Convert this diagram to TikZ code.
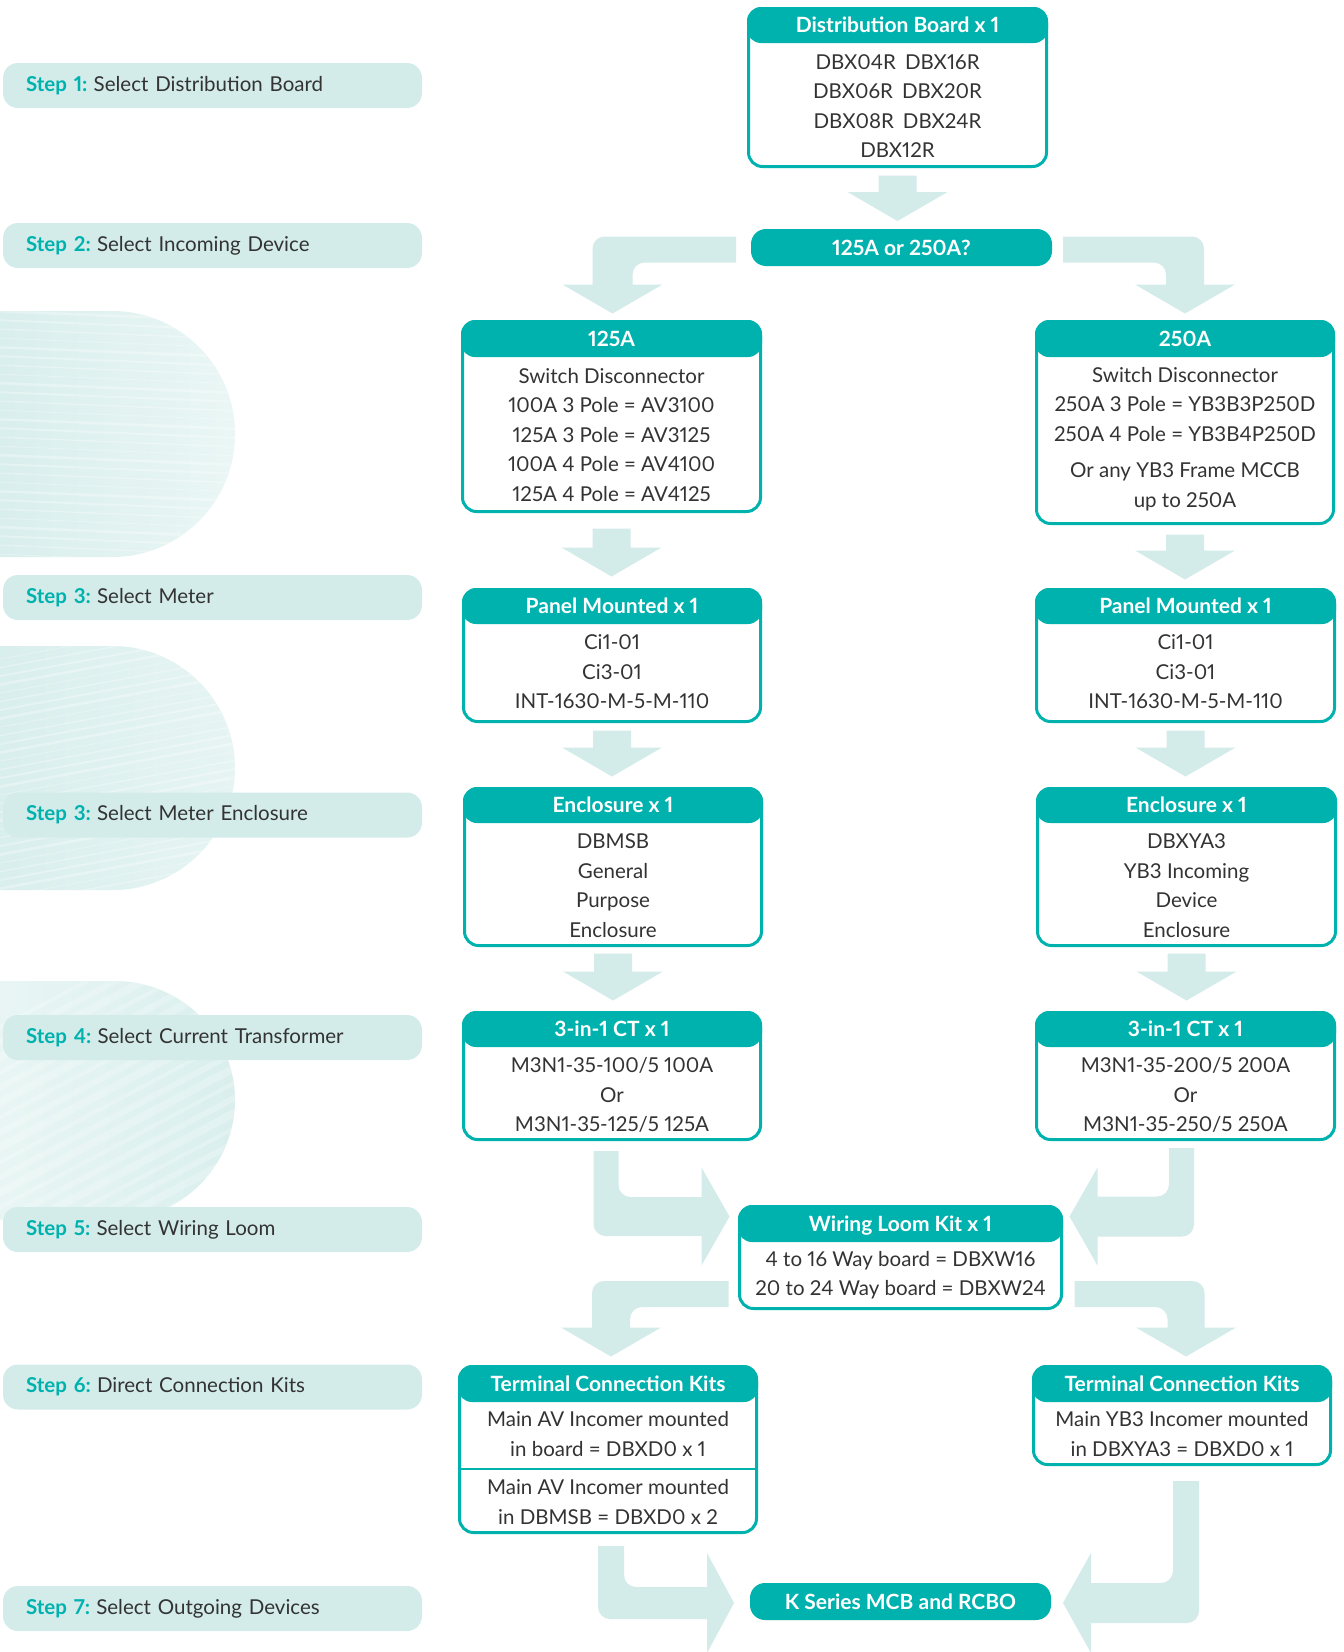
\documentclass[tikz,border=0pt]{standalone}
\usepackage{fontspec}
\setmainfont{Lato}[Numbers=Proportional]
\usetikzlibrary{calc}
\definecolor{tealc}{HTML}{00B2AE}
\definecolor{litec}{HTML}{D3ECEA}
\definecolor{darkc}{HTML}{333333}
\definecolor{blobc}{HTML}{D9EFED}
\newcommand\stp[1]{\textcolor{tealc}{\bfseries Step #1:}\hspace{-4pt}}
\newcommand\tbox[7]{%
 \node[boxs, minimum width={(#4-#2-3)*1pt}, minimum height={(#5-#3-3)*1pt}] (#1) at ({(#2+#4)/2},{(#3+#5)/2}) {};
 \node[hdr, minimum width={(#4-#2)*1pt}, minimum height={(#6-#3)*1pt}] (#1-h) at ({(#2+#4)/2},{(#3+#6)/2}) {#7};}
\newcommand\dnarrow[4]{%
 \fill[litec] let \p1=(#1.south), \p2=(#2.north) in
 ({\x1-19pt},{\y1-#3pt}) -- ({\x1+19pt},{\y1-#3pt}) -- ({\x1+19pt},{\y2+#4pt+29pt}) -- ({\x1+50pt},{\y2+#4pt+29pt})
 -- ({\x1},{\y2+#4pt}) -- ({\x1-50pt},{\y2+#4pt+29pt}) -- ({\x1-19pt},{\y2+#4pt+29pt}) -- cycle;}
\newcommand\bandDown[5]{%
 \begin{scope}
 \clip let \p1=(#1), \p2=(#2) in
   ({\x1}, {\y1+#3pt/2}) rectangle ({\x2+(#5)*(#4pt/2+6pt)}, {\y2+26pt});
 \fill[litec, rounded corners=12pt] let \p1=(#1), \p2=(#2) in
   ({\x1-(#5)*20pt}, {\y1+#3pt/2}) -- ({\x2+(#5)*#4pt/2}, {\y1+#3pt/2}) -- ({\x2+(#5)*#4pt/2}, {\y2+10pt})
   -- ({\x2-(#5)*#4pt/2}, {\y2+10pt}) -- ({\x2-(#5)*#4pt/2}, {\y1-#3pt/2}) -- ({\x1-(#5)*20pt}, {\y1-#3pt/2}) -- cycle;
 \end{scope}
 \fill[litec] let \p1=(#2) in ({\x1-50pt},{\y1+29pt}) -- ({\x1+50pt},{\y1+29pt}) -- ({\x1},{\y1}) -- cycle;}
\newcommand\stemBand[7]{%
 \begin{scope}
 \clip let \p1=(#1), \p2=(#2) in
   ({\x1-(#5)*(#3pt/2+6pt)}, {\y1}) rectangle ({\x2-(#5)*(#7pt-3pt)}, {\y2-#4pt/2});
 \fill[litec, rounded corners=12pt] let \p1=(#1), \p2=(#2) in
   ({\x1-(#5)*#3pt/2}, {\y1+20pt}) -- ({\x1-(#5)*#3pt/2}, {\y2-#4pt/2}) -- ({\x2-(#5)*(#7pt-20pt)}, {\y2-#4pt/2})
   -- ({\x2-(#5)*(#7pt-20pt)}, {\y2+#4pt/2}) -- ({\x1+(#5)*#3pt/2}, {\y2+#4pt/2}) -- ({\x1+(#5)*#3pt/2}, {\y1+20pt}) -- cycle;
 \end{scope}
 \fill[litec] let \p1=(#2) in ({\x1-(#5)*#7pt}, {\y1+#6pt}) -- ({\x1-(#5)*#7pt}, {\y1-#6pt}) -- ({\x1},{\y1}) -- cycle;}
\begin{document}
\begin{tikzpicture}[x=1pt,y=-1pt,
  every node/.style={inner sep=0pt,outer sep=0pt},
  boxs/.style={draw=tealc, line width=3pt, rounded corners=14pt, fill=white},
  hdr/.style={fill=tealc, rounded corners=14pt, text=white, font=\bfseries\fontsize{21}{24}\selectfont, text height=15pt, text depth=0pt},
  body/.style={text=darkc, align=center, font=\fontsize{20.5}{29.5}\selectfont},
  stepbar/.style={fill=litec, rounded corners=15pt, minimum width=419pt, minimum height=45pt, text width=373pt, inner xsep=23pt, align=left, text=darkc, font=\fontsize{20.5}{24}\selectfont}]
\useasboundingbox (0,0) rectangle (1344,1652);
\fill[white] (0,0) rectangle (1344,1652);

% decorative blobs
\begin{scope}
\clip (0,311) -- (112,311) .. controls (180,311) and (235,366) .. (235,434) .. controls (235,502) and (180,557) .. (112,557) -- (0,557) -- cycle;
\shade[left color=blobc, right color=blobc!55!white] (0,300) rectangle (240,570);
\foreach \i in {0,...,30} \draw[white, opacity=0.3, line width={0.8+mod(\i*7,4)*0.6}] (-5,{302+\i*9}) -- (240,{312+\i*9});
\end{scope}
\begin{scope}
\clip (0,646) -- (113,646) .. controls (180,646) and (235,701) .. (235,768) .. controls (235,835) and (180,890) .. (113,890) -- (0,890) -- cycle;
\shade[left color=blobc, right color=blobc!65!white] (0,640) rectangle (240,900);
\foreach \i in {0,...,36} \draw[white, opacity=0.3, line width={0.8+mod(\i*5,4)*0.6}] (-5,{660+\i*8.5}) -- (240,{615+\i*8.5});
\end{scope}
\begin{scope}
\clip (0,981) -- (115,981) .. controls (181,981) and (235,1034) .. (235,1100) .. controls (235,1166) and (181,1220) .. (115,1220) -- (0,1220) -- cycle;
\shade[left color=blobc!60!white, right color=blobc] (0,975) rectangle (240,1225);
\foreach \i in {0,...,20} \draw[white, opacity=0.22, line width={4+2*mod(\i,3)}] (-5,{1030+\i*15}) -- (240,{900+\i*15});
\end{scope}

% step bars
\node[stepbar] (s1) at (212.5,85.5) {\stp{1} Select Distribution Board};
\node[stepbar] (s2) at (212.5,245.5) {\stp{2} Select Incoming Device};
\node[stepbar] (s3) at (212.5,597.5) {\stp{3} Select Meter};
\node[stepbar] (s3b) at (212.5,815) {\stp{3} Select Meter Enclosure};
\node[stepbar] (s4) at (212.5,1037.5) {\stp{4} Select Current Transformer};
\node[stepbar] (s5) at (212.5,1229.5) {\stp{5} Select Wiring Loom};
\node[stepbar] (s6) at (212.5,1387) {\stp{6} Direct Connection Kits};
\node[stepbar] (s7) at (212.5,1608.5) {\stp{7} Select Outgoing Devices};

% boxes
\tbox{db}{747}{7}{1048}{168}{43}{Distribution Board x 1}
\node[body] (db-t) at (897.5,106) {DBX04R\hspace{9pt}DBX16R\\DBX06R\hspace{9pt}DBX20R\\DBX08R\hspace{9pt}DBX24R\\DBX12R};
\node[hdr, minimum width=301pt, minimum height=37pt, rounded corners=15pt] (q) at (901.5,247.5) {125A or 250A?};

\tbox{a125}{461}{320}{762}{513}{357}{125A}
\node[body] (a125-t) at (611.5,435) {Switch Disconnector\\100A 3 Pole = AV3100\\125A 3 Pole = AV3125\\100A 4 Pole = AV4100\\125A 4 Pole = AV4125};
\tbox{b250}{1035}{320}{1335}{525}{357}{250A}
\node[body] (b250-t) at (1185,439) {Switch Disconnector\\250A 3 Pole = YB3B3P250D\\250A 4 Pole = YB3B4P250D\\[7pt]Or any YB3 Frame MCCB\\up to 250A};

\tbox{pml}{462}{588}{762}{723}{624}{Panel Mounted x 1}
\node[body] (pml-t) at (612,672) {Ci1-01\\Ci3-01\\INT-1630-M-5-M-110};
\tbox{pmr}{1035}{588}{1336}{723}{624}{Panel Mounted x 1}
\node[body] (pmr-t) at (1185.5,672) {Ci1-01\\Ci3-01\\INT-1630-M-5-M-110};

\tbox{enl}{463}{787}{763}{947}{823}{Enclosure x 1}
\node[body] (enl-t) at (613,885.5) {DBMSB\\General\\Purpose\\Enclosure};
\tbox{enr}{1036}{787}{1337}{947}{823}{Enclosure x 1}
\node[body] (enr-t) at (1186.5,885.5) {DBXYA3\\YB3 Incoming\\Device\\Enclosure};

\tbox{ctl}{462}{1011}{762}{1141}{1047}{3-in-1 CT x 1}
\node[body] (ctl-t) at (612,1095) {M3N1-35-100/5 100A\\Or\\M3N1-35-125/5 125A};
\tbox{ctr}{1035}{1011}{1336}{1141}{1047}{3-in-1 CT x 1}
\node[body] (ctr-t) at (1185.5,1095) {M3N1-35-200/5 200A\\Or\\M3N1-35-250/5 250A};

\tbox{loom}{738}{1205}{1063}{1310}{1242}{Wiring Loom Kit x 1}
\node[body] (loom-t) at (900.5,1275) {4 to 16 Way board = DBXW16\\20 to 24 Way board = DBXW24};

\tbox{tckl}{458}{1365}{758}{1534}{1402}{Terminal Connection Kits}
\draw[tealc, line width=2.5pt] ($(tckl.west)+(0,19.5)$) -- ($(tckl.east)+(0,19.5)$);
\node[body] (tckl-t1) at (608,1434) {Main AV Incomer mounted\\in board = DBXD0 x 1};
\node[body] (tckl-t2) at (608,1502) {Main AV Incomer mounted\\in DBMSB = DBXD0 x 2};
\tbox{tckr}{1032}{1365}{1332}{1466}{1402}{Terminal Connection Kits}
\node[body] (tckr-t) at (1182,1434) {Main YB3 Incomer mounted\\in DBXYA3 = DBXD0 x 1};

\node[hdr, minimum width=301pt, minimum height=37pt, rounded corners=15pt] (k) at (900.5,1601.5) {K Series MCB and RCBO};

% straight arrows
\dnarrow{db}{q}{9}{8}
\dnarrow{a125}{pml}{17}{13}
\dnarrow{b250}{pmr}{11}{10}
\dnarrow{pml}{enl}{9}{12}
\dnarrow{pmr}{enr}{9}{12}
\dnarrow{enl}{ctl}{8}{12}
\dnarrow{enr}{ctr}{8}{12}

% bent arrows
\coordinate (qL) at ($(q.west)+(-15,2)$);
\coordinate (aT) at ($(a125.north)+(1,-8)$);
\bandDown{qL}{aT}{26}{40}{-1}
\coordinate (qR) at ($(q.east)+(11,2)$);
\coordinate (bT) at ($(b250.north)+(0,-8)$);
\bandDown{qR}{bT}{26}{38}{1}

\coordinate (cS) at ($(ctl.south)+(-6,12)$);
\coordinate (lT) at ($(loom.west)+(-10,-41)$);
\stemBand{cS}{lT}{25}{39}{1}{49}{28}
\coordinate (dS) at ($(ctr.south)+(-4,9)$);
\coordinate (rT) at ($(loom.east)+(8,-41)$);
\stemBand{dS}{rT}{25}{40}{-1}{49}{28}

\coordinate (lS) at ($(loom.west)+(-11,36.5)$);
\coordinate (tT) at ($(tckl.north)+(3,-10)$);
\bandDown{lS}{tT}{26}{38}{-1}
\coordinate (rS) at ($(loom.east)+(13,36.5)$);
\coordinate (uT) at ($(tckr.north)+(4,-10)$);
\bandDown{rS}{uT}{26}{37}{1}

\coordinate (tS) at ($(tckl.south)+(3,14)$);
\coordinate (kL) at ($(k.west)+(-16,1.5)$);
\stemBand{tS}{kL}{26}{32}{1}{50}{27}
\coordinate (uS) at ($(tckr.south)+(4,17)$);
\coordinate (kR) at ($(k.east)+(12,1.5)$);
\stemBand{uS}{kR}{26}{40}{-1}{50}{28}
\end{tikzpicture}
\end{document}
